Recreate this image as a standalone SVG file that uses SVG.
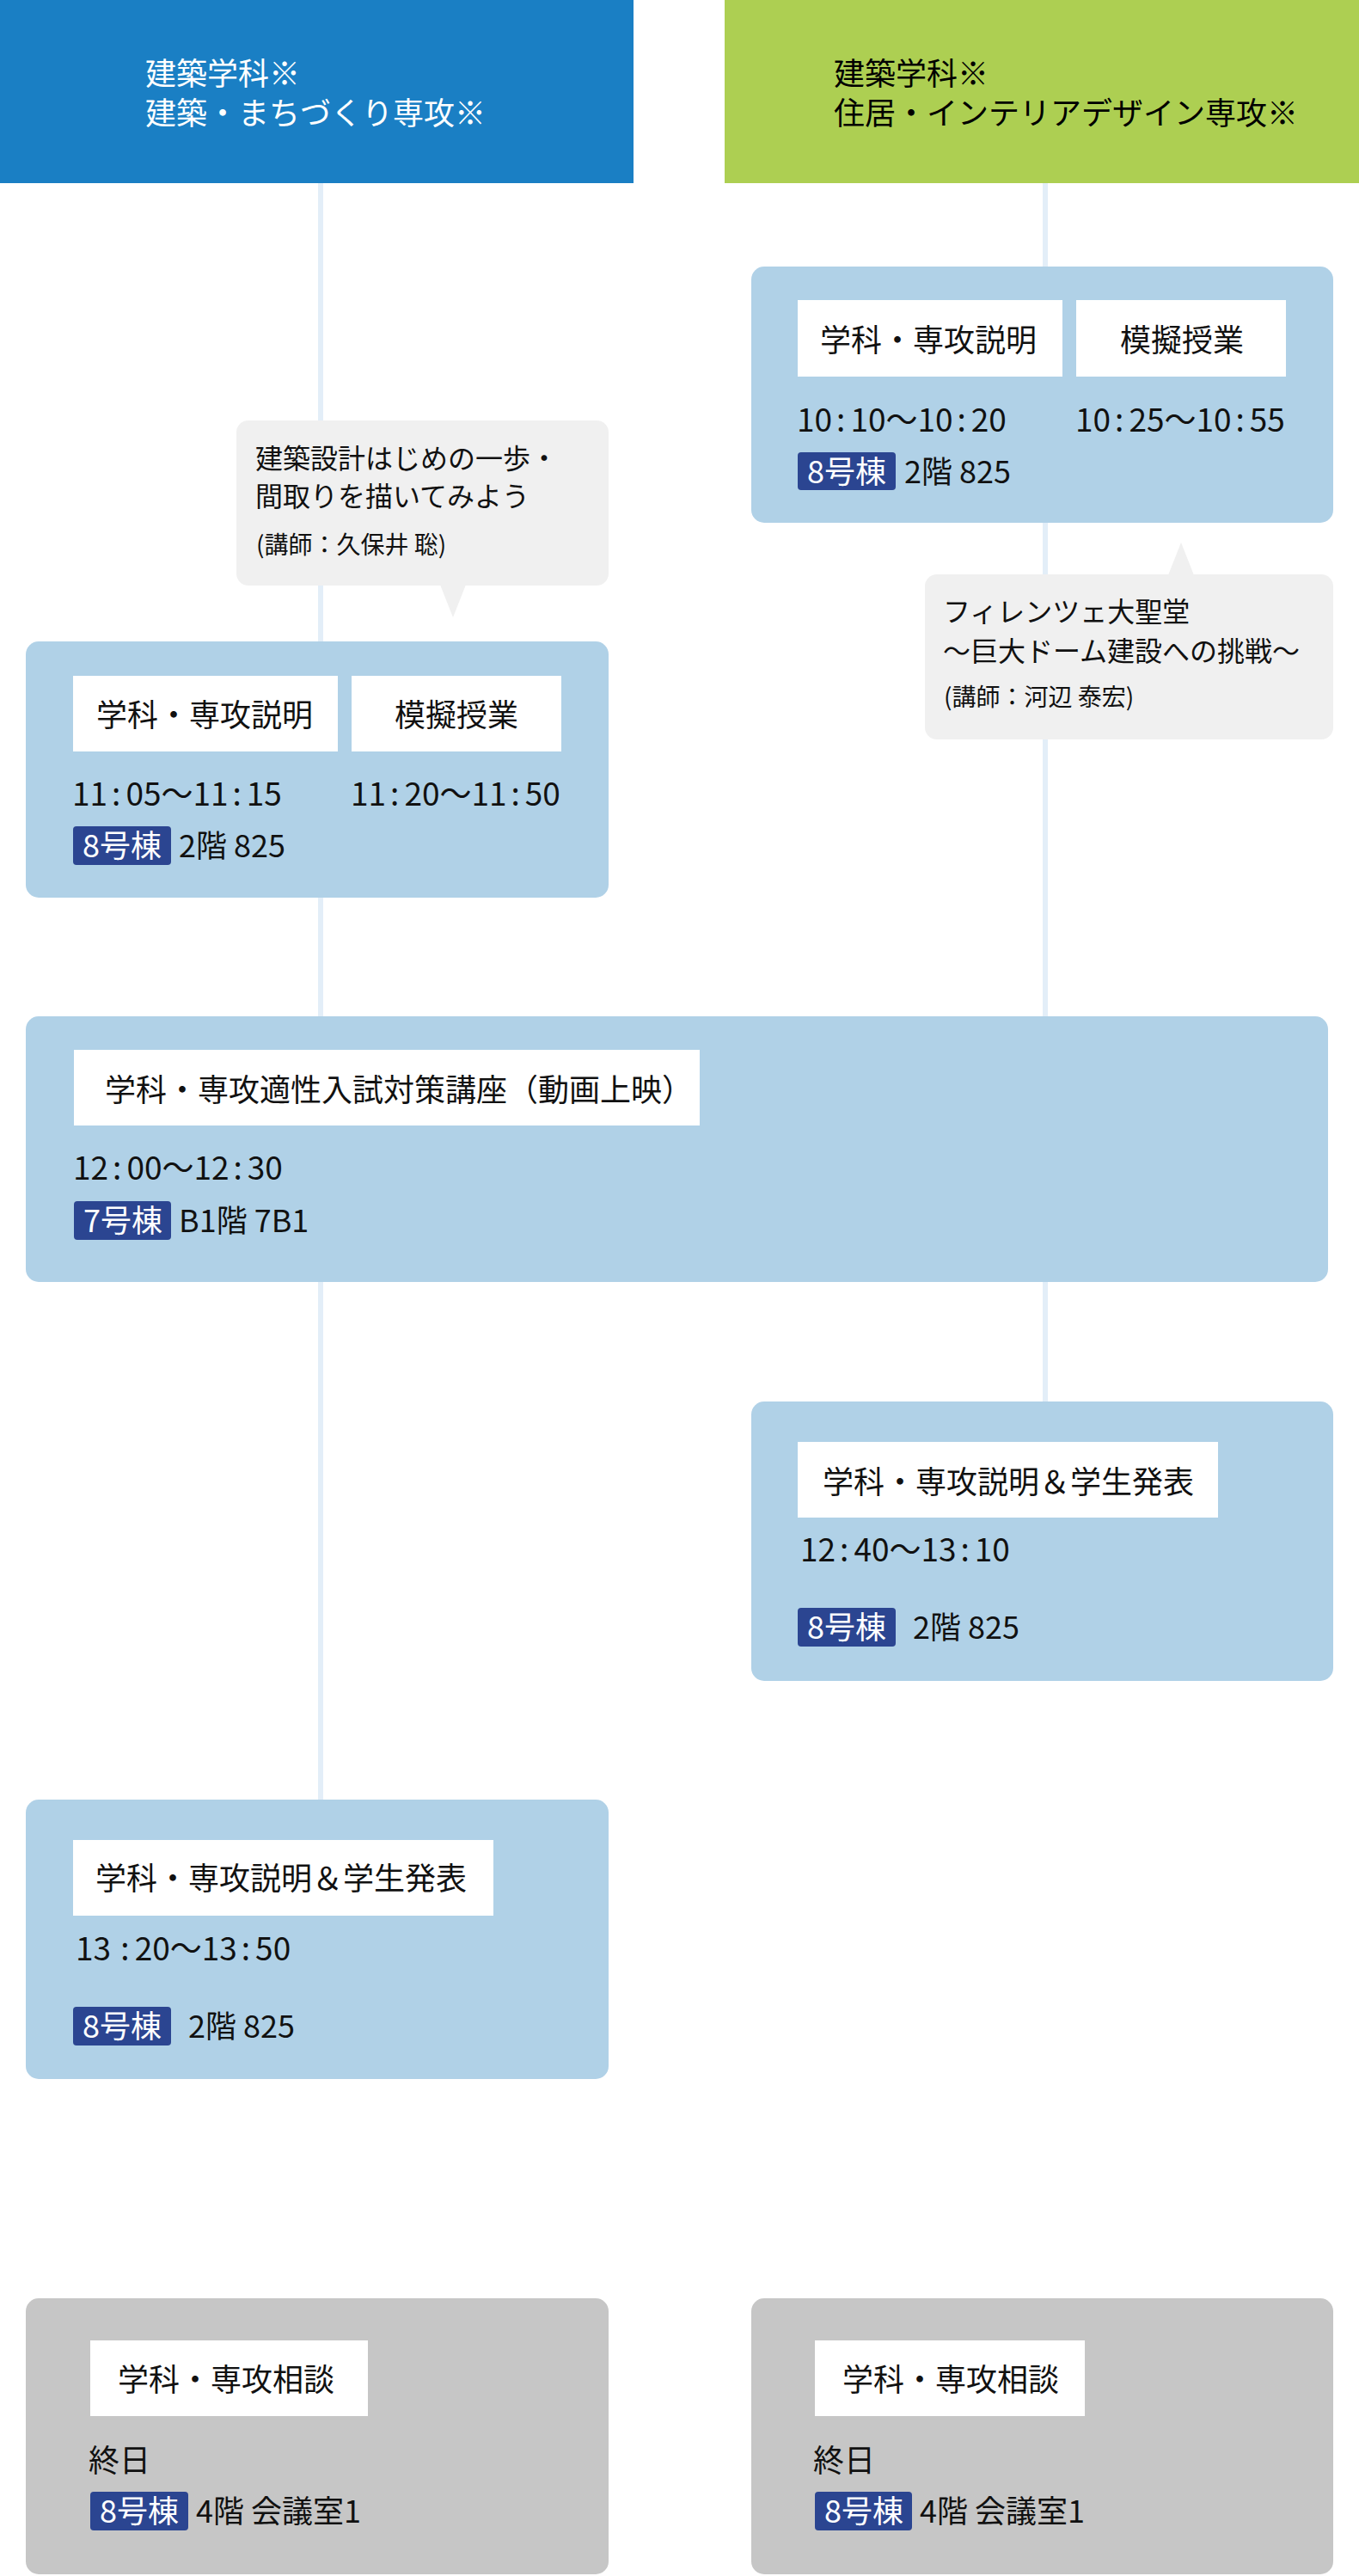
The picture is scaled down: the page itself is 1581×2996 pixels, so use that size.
<svg xmlns="http://www.w3.org/2000/svg" width="1581" height="2996" viewBox="0 0 1581 2996">
<style>
text{font-family:'Noto Sans CJK JP','Noto Sans CJK SC','Noto Sans',sans-serif;fill:#111}
.hd{font-size:36px}
.lbl{font-size:36px;text-anchor:middle}
.tm{font-size:37px}
.loc{font-size:36px}
.bdt{font-size:36px;fill:#fff}
.bub{font-size:32px}
.lec{font-size:28px}
.box{fill:#b0d1e7}
.gbox{fill:#c6c6c6}
.w{fill:#fff}
.badge{fill:#2b4591}
.bubble{fill:#f0f0f0}
.conn{stroke:#e3eef8;stroke-width:6;fill:none}
</style>
<rect width="1581" height="2996" fill="#fff"/>
<g id="connectors">
<line class="conn" x1="373" y1="213" x2="373" y2="2093"/>
<line class="conn" x1="1216" y1="213" x2="1216" y2="1630"/>
</g>
<g id="header-left">
<rect x="0" y="0" width="737" height="213" fill="#1a7fc4"/>
<text class="hd" style="fill:#fff"><tspan x="169" y="99">建築学科※</tspan><tspan x="169" y="145">建築・まちづくり専攻※</tspan></text>
</g>
<g id="header-right">
<rect x="843" y="0" width="738" height="213" fill="#adcf52"/>
<text class="hd" style="fill:#000"><tspan x="970" y="99">建築学科※</tspan><tspan x="970" y="145">住居・インテリアデザイン専攻※</tspan></text>
</g>
<g id="box-r1">
<rect class="box" x="874" y="310" width="677" height="298" rx="15"/>
<rect class="w" x="928" y="349" width="308" height="89"/>
<rect class="w" x="1252" y="349" width="244" height="89"/>
<text class="lbl" x="1080" y="409">学科・専攻説明</text>
<text class="lbl" x="1375" y="409">模擬授業</text>
<text class="tm" x="927" y="502">10<tspan dx="5">:</tspan><tspan dx="6">10</tspan>〜10<tspan dx="5">:</tspan><tspan dx="6">20</tspan></text>
<text class="tm" x="1251" y="502">10<tspan dx="5">:</tspan><tspan dx="6">25</tspan>〜10<tspan dx="5">:</tspan><tspan dx="6">55</tspan></text>
<rect class="badge" x="928" y="526" width="114" height="44" rx="4"/>
<text class="bdt" x="939" y="562">8号棟</text>
<text class="loc" x="1052" y="562">2階 825</text>
</g>
<g id="bubble-r">
<rect class="bubble" x="1076" y="668" width="475" height="192" rx="14"/>
<polygon class="bubble" points="1359,669 1389,669 1374,631"/>
<text class="bub" x="1097" y="723">フィレンツェ大聖堂</text>
<text class="bub" x="1097" y="769">〜巨大ドーム建設への挑戦〜</text>
<text class="lec" x="1098" y="821">(講師：河辺 泰宏)</text>
</g>
<g id="bubble-l">
<rect class="bubble" x="275" y="489" width="433" height="192" rx="14"/>
<polygon class="bubble" points="512,680 542,680 527,718"/>
<text class="bub" x="297" y="545">建築設計はじめの一歩・</text>
<text class="bub" x="297" y="589">間取りを描いてみよう</text>
<text class="lec" x="298" y="644">(講師：久保井 聡)</text>
</g>
<g id="box-l1">
<rect class="box" x="30" y="746" width="678" height="298" rx="15"/>
<rect class="w" x="85" y="786" width="308" height="88"/>
<rect class="w" x="409" y="786" width="244" height="88"/>
<text class="lbl" x="238" y="845">学科・専攻説明</text>
<text class="lbl" x="531" y="845">模擬授業</text>
<text class="tm" x="84" y="937">11<tspan dx="5">:</tspan><tspan dx="6">05</tspan>〜11<tspan dx="5">:</tspan><tspan dx="6">15</tspan></text>
<text class="tm" x="408" y="937">11<tspan dx="5">:</tspan><tspan dx="6">20</tspan>〜11<tspan dx="5">:</tspan><tspan dx="6">50</tspan></text>
<rect class="badge" x="85" y="961" width="114" height="45" rx="4"/>
<text class="bdt" x="96" y="997">8号棟</text>
<text class="loc" x="208" y="997">2階 825</text>
</g>
<g id="box-wide">
<rect class="box" x="30" y="1182" width="1515" height="309" rx="15"/>
<rect class="w" x="86" y="1221" width="728" height="88"/>
<text class="hd" x="122" y="1281">学科・専攻適性入試対策講座（動画上映）</text>
<text class="tm" x="85" y="1372">12<tspan dx="5">:</tspan><tspan dx="6">00</tspan>〜12<tspan dx="5">:</tspan><tspan dx="6">30</tspan></text>
<rect class="badge" x="86" y="1397" width="113" height="45" rx="4"/>
<text class="bdt" x="97" y="1433">7号棟</text>
<text class="loc" x="208" y="1433">B1階 7B1</text>
</g>
<g id="box-r2">
<rect class="box" x="874" y="1630" width="677" height="325" rx="15"/>
<rect class="w" x="928" y="1677" width="489" height="88"/>
<text class="lbl" x="1173" y="1737">学科・専攻説明＆学生発表</text>
<text class="tm" x="931" y="1816">12<tspan dx="5">:</tspan><tspan dx="6">40</tspan>〜13<tspan dx="5">:</tspan><tspan dx="6">10</tspan></text>
<rect class="badge" x="928" y="1870" width="114" height="45" rx="4"/>
<text class="bdt" x="939" y="1906">8号棟</text>
<text class="loc" x="1062" y="1906">2階 825</text>
</g>
<g id="box-l2">
<rect class="box" x="30" y="2093" width="678" height="325" rx="15"/>
<rect class="w" x="85" y="2140" width="489" height="88"/>
<text class="lbl" x="327" y="2198">学科・専攻説明＆学生発表</text>
<text class="tm" x="88" y="2280">13 <tspan dx="3">:</tspan><tspan dx="6">20</tspan>〜13<tspan dx="5">:</tspan><tspan dx="6">50</tspan></text>
<rect class="badge" x="85" y="2334" width="114" height="45" rx="4"/>
<text class="bdt" x="96" y="2370">8号棟</text>
<text class="loc" x="219" y="2370">2階 825</text>
</g>
<g id="consult-l">
<rect class="gbox" x="30" y="2673" width="678" height="321" rx="15"/>
<rect class="w" x="105" y="2722" width="323" height="88"/>
<text class="lbl" x="263" y="2781">学科・専攻相談</text>
<text class="loc" x="103" y="2875">終日</text>
<rect class="badge" x="105" y="2898" width="114" height="45" rx="4"/>
<text class="bdt" x="116" y="2934">8号棟</text>
<text class="loc" x="228" y="2934">4階 会議室1</text>
</g>
<g id="consult-r">
<rect class="gbox" x="874" y="2673" width="677" height="321" rx="15"/>
<rect class="w" x="948" y="2722" width="314" height="88"/>
<text class="lbl" x="1106" y="2781">学科・専攻相談</text>
<text class="loc" x="946" y="2875">終日</text>
<rect class="badge" x="948" y="2898" width="113" height="45" rx="4"/>
<text class="bdt" x="959" y="2934">8号棟</text>
<text class="loc" x="1070" y="2934">4階 会議室1</text>
</g>
</svg>
